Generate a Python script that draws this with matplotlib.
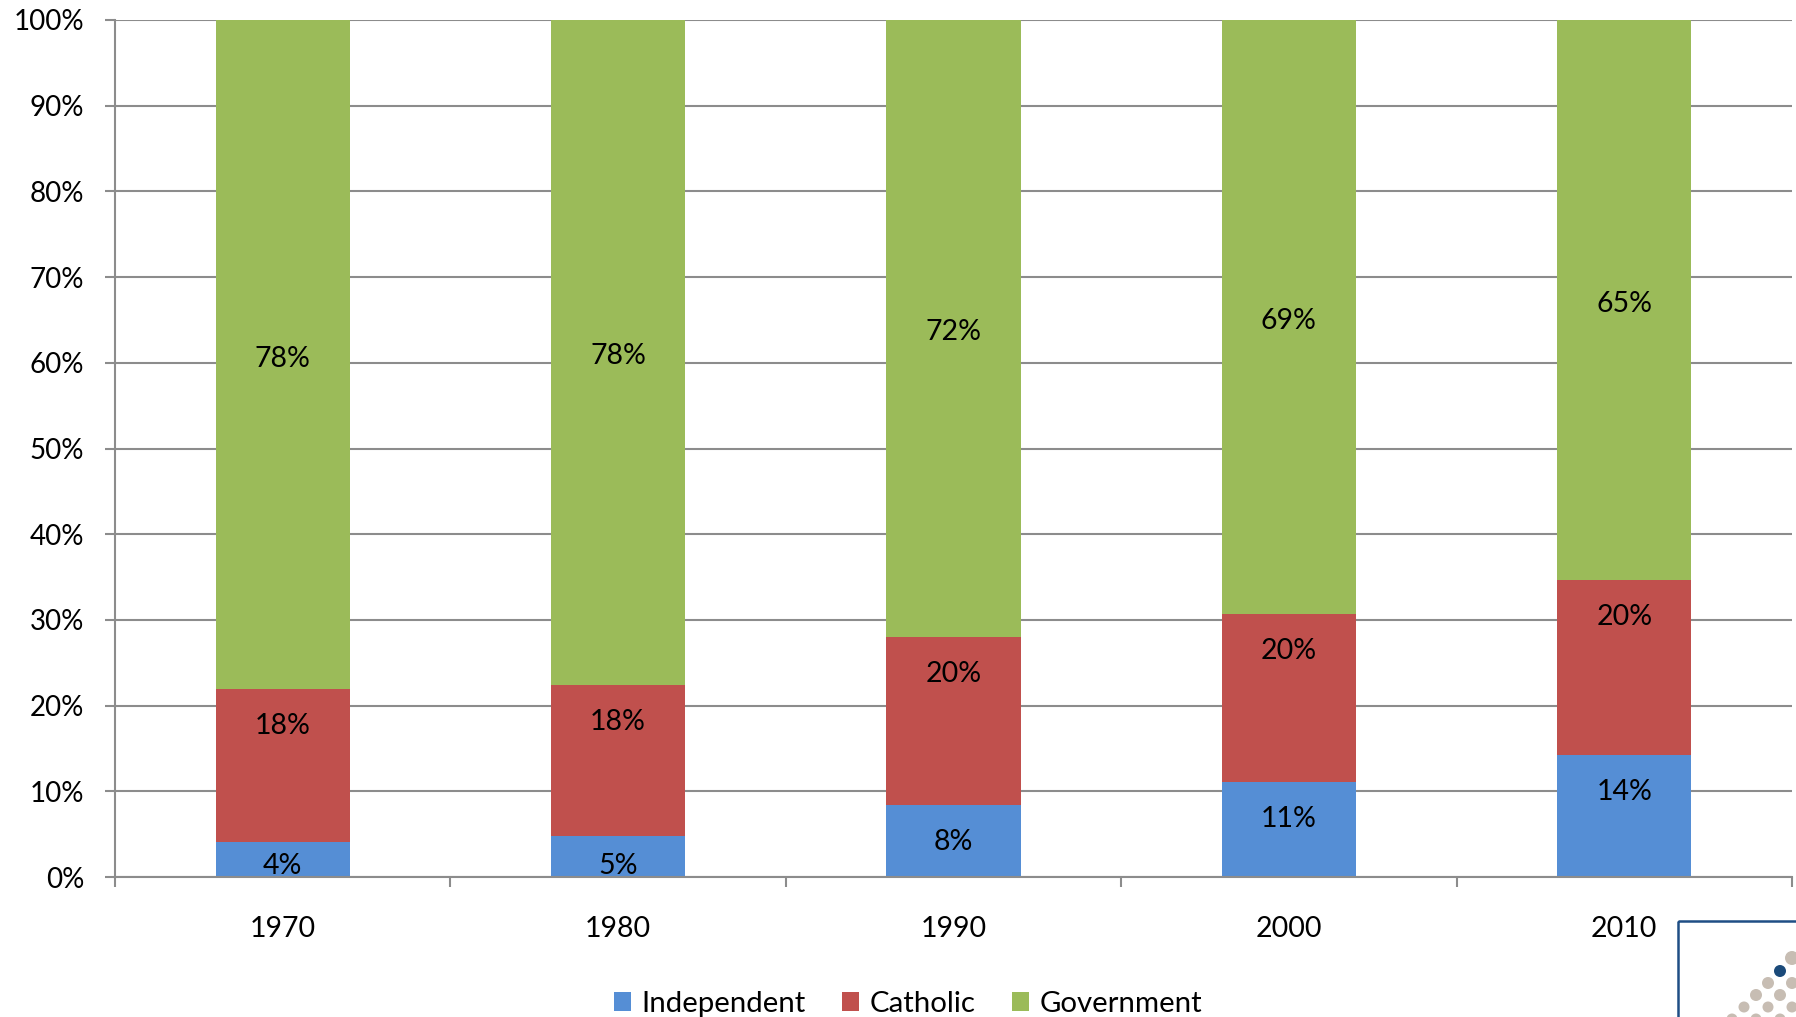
import matplotlib
matplotlib.use("Agg")
import matplotlib.pyplot as plt
from matplotlib.patches import Rectangle, Circle, Patch
import numpy as np

years = ['1970', '1980', '1990', '2000', '2010']
independent = [4.1, 4.8, 8.4, 11.1, 14.2]
catholic = [17.8, 17.6, 19.6, 19.6, 20.4]
government = [78.1, 77.6, 72.0, 69.3, 65.4]
y_ticks = [0, 10, 20, 30, 40, 50, 60, 70, 80, 90, 100]
series_names = ['Independent', 'Catholic', 'Government']

C_IND = '#558ED5'
C_CAT = '#C0504D'
C_GOV = '#9BBB59'
GRID = '#8C8C8C'

plt.rcParams['font.family'] = ['Lato', 'DejaVu Sans']
FS = 20

W, H = 1796, 1017
fig = plt.figure(figsize=(W / 100, H / 100), dpi=100)
ax = fig.add_axes([115 / W, 1 - 877 / H, (1792 - 115) / W, (877 - 20) / H])

x = np.arange(len(years))
bw = 0.4
ind = np.array(independent)
cat = np.array(catholic)
gov = np.array(government)

ax.bar(x, ind, bw, color=C_IND, zorder=3)
ax.bar(x, cat, bw, bottom=ind, color=C_CAT, zorder=3)
ax.bar(x, gov, bw, bottom=ind + cat, color=C_GOV, zorder=3)

ax.set_xlim(-0.5, len(years) - 0.5)
ax.set_ylim(0, 100)

# labels
inside = 3.85
dy = 0.45
for i in range(len(years)):
    top = ind[i]
    yl = max(top - inside, 1.75)
    ax.text(x[i], yl - dy, f"{int(round(ind[i]))}%", ha='center', va='center', fontsize=FS + 0.5, zorder=4)
    top = ind[i] + cat[i]
    yl = max(top - inside, ind[i] + 1.75)
    ax.text(x[i], yl - dy, f"{int(round(cat[i]))}%", ha='center', va='center', fontsize=FS + 0.5, zorder=4)
    yl = ind[i] + cat[i] + gov[i] / 2
    ax.text(x[i], yl - dy, f"{int(round(gov[i]))}%", ha='center', va='center', fontsize=FS + 0.5, zorder=4)

# y axis
ax.set_yticks(y_ticks)
ax.set_yticklabels([f"{v}%" for v in y_ticks])
ax.yaxis.grid(True, color=GRID, linewidth=1.5, zorder=0)
ax.tick_params(axis='y', length=7.2, width=1.5, color=GRID, pad=15, labelsize=FS)

# x axis: boundary ticks, centered labels
ax.set_xticks(np.arange(-0.5, len(years), 1.0))
ax.set_xticklabels([])
ax.set_xticks(x, minor=True)
ax.set_xticklabels(years, minor=True)
ax.tick_params(axis='x', which='major', length=7.2, width=1.5, color=GRID)
ax.tick_params(axis='x', which='minor', length=0, pad=28, labelsize=FS + 0.5)

for s in ['top', 'right']:
    ax.spines[s].set_visible(False)
for s in ['left', 'bottom']:
    ax.spines[s].set_color(GRID)
    ax.spines[s].set_linewidth(1.5)
    ax.spines[s].set_zorder(5)

# legend
handles = [Patch(facecolor=c, edgecolor='none') for c in (C_IND, C_CAT, C_GOV)]
fig.legend(handles, series_names, loc='center', bbox_to_anchor=(908 / W, 1 - 1004 / H),
           ncol=3, frameon=False, fontsize=FS + 1.2, handlelength=0.58, handleheight=0.58,
           handletextpad=0.35, columnspacing=1.25, borderpad=0)

# logo decoration (bottom right)
lax = fig.add_axes([0, 0, 1, 1], zorder=10)
lax.set_xlim(0, W)
lax.set_ylim(H, 0)
lax.axis('off')
lax.add_patch(Rectangle((1678, 921), 200, 200, fill=False, edgecolor='#1F4E85', linewidth=1.8))
beige = '#C7BDB3'
dots = [(1792, 958, 7), (1768, 983, 6), (1792, 983, 6), (1756, 995, 6), (1780, 995, 6),
        (1744, 1007, 5.5), (1768, 1007, 5.5), (1792, 1007, 5.5),
        (1732, 1019, 5.5), (1756, 1019, 5.5), (1780, 1019, 5.5)]
for (cx, cy, r) in dots:
    lax.add_patch(Circle((cx, cy), r, color=beige, linewidth=0))
lax.add_patch(Circle((1780, 971), 6, color='#1B4A7A', linewidth=0))

fig.savefig('out.png', dpi=100)
